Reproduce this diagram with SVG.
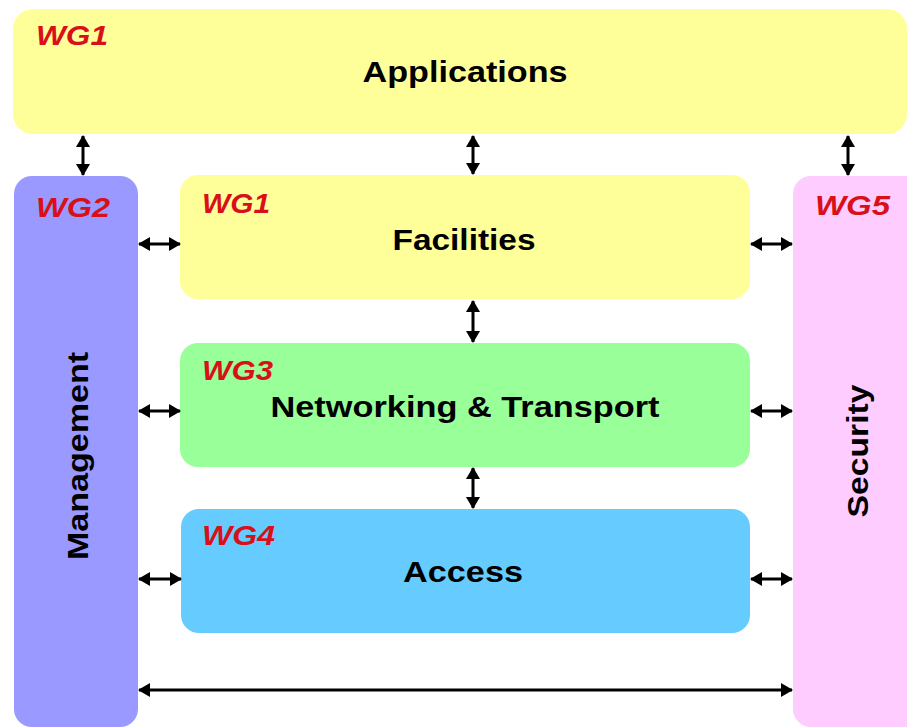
<svg xmlns="http://www.w3.org/2000/svg" width="907" height="728" viewBox="0 0 907 728">
<style>
.title{font-family:"Liberation Sans",Arial,sans-serif;font-weight:bold;font-size:30px;fill:#000;text-anchor:middle}
.wg{font-family:"Liberation Sans",Arial,sans-serif;font-weight:bold;font-style:italic;font-size:28px;fill:#D8101A}
.conn{stroke:#000;stroke-width:3;fill:none;marker-start:url(#ah);marker-end:url(#ah)}
</style>
<defs>
<marker id="ah" markerUnits="userSpaceOnUse" viewBox="0 0 12 14" refX="11" refY="7" markerWidth="12" markerHeight="14" orient="auto-start-reverse">
<path d="M0,0 L12,7 L0,14 Z" fill="#000"/>
</marker>
</defs>
<rect width="907" height="728" fill="#fff"/>
<g id="applications">
<rect x="13" y="9" width="894" height="125" rx="20" fill="#FFFF99"/>
<text class="wg" x="36" y="45" textLength="72" lengthAdjust="spacingAndGlyphs">WG1</text>
<text class="title" x="465" y="82" textLength="205" lengthAdjust="spacingAndGlyphs">Applications</text>
</g>
<g id="management">
<rect x="14" y="176" width="124" height="551" rx="18" fill="#9999FF"/>
<text class="wg" x="36" y="217" textLength="74" lengthAdjust="spacingAndGlyphs">WG2</text>
<text class="title" transform="translate(88,456) rotate(-90)" x="0" y="0" textLength="208" lengthAdjust="spacingAndGlyphs">Management</text>
</g>
<g id="facilities">
<rect x="180" y="175" width="570" height="124" rx="18" fill="#FFFF99"/>
<text class="wg" x="202" y="213" textLength="68" lengthAdjust="spacingAndGlyphs">WG1</text>
<text class="title" x="464" y="250" textLength="143" lengthAdjust="spacingAndGlyphs">Facilities</text>
</g>
<g id="networking">
<rect x="180" y="343" width="570" height="124" rx="18" fill="#99FF99"/>
<text class="wg" x="202" y="380" textLength="71" lengthAdjust="spacingAndGlyphs">WG3</text>
<text class="title" x="465" y="417" textLength="389" lengthAdjust="spacingAndGlyphs">Networking &amp; Transport</text>
</g>
<g id="access">
<rect x="181" y="509" width="569" height="124" rx="18" fill="#66CCFF"/>
<text class="wg" x="202" y="545" textLength="73" lengthAdjust="spacingAndGlyphs">WG4</text>
<text class="title" x="463" y="582" textLength="120" lengthAdjust="spacingAndGlyphs">Access</text>
</g>
<g id="security">
<rect x="793" y="176" width="130" height="551" rx="18" fill="#FFCCFF"/>
<text class="wg" x="815" y="215" textLength="75" lengthAdjust="spacingAndGlyphs">WG5</text>
<text class="title" transform="translate(868,451) rotate(-90)" x="0" y="0" textLength="133" lengthAdjust="spacingAndGlyphs">Security</text>
</g>
<g id="connectors">
<line class="conn" x1="83" y1="136" x2="83" y2="175"/>
<line class="conn" x1="473" y1="136" x2="473" y2="174"/>
<line class="conn" x1="848" y1="136" x2="848" y2="175"/>
<line class="conn" x1="473" y1="301" x2="473" y2="342"/>
<line class="conn" x1="473" y1="468" x2="473" y2="508"/>
<line class="conn" x1="139" y1="244" x2="180" y2="244"/>
<line class="conn" x1="139" y1="411" x2="180" y2="411"/>
<line class="conn" x1="139" y1="579" x2="181" y2="579"/>
<line class="conn" x1="751" y1="244" x2="792" y2="244"/>
<line class="conn" x1="751" y1="411" x2="792" y2="411"/>
<line class="conn" x1="751" y1="579" x2="792" y2="579"/>
<line class="conn" x1="139" y1="690" x2="792" y2="690"/>
</g>
</svg>
